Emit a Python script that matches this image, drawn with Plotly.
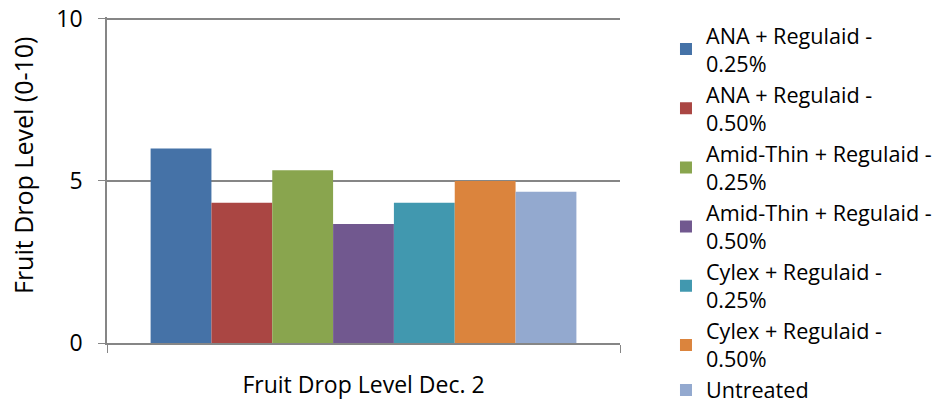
import plotly.graph_objects as go

category = ["Fruit Drop Level Dec. 2"]
series_names = [
    "ANA + Regulaid -<br>0.25%",
    "ANA + Regulaid -<br>0.50%",
    "Amid-Thin + Regulaid -<br>0.25%",
    "Amid-Thin + Regulaid -<br>0.50%",
    "Cylex + Regulaid -<br>0.25%",
    "Cylex + Regulaid -<br>0.50%",
    "Untreated",
]
series_values = [6.0, 4.33, 5.33, 3.67, 4.33, 5.0, 4.67]
colors = ["#4572A7", "#AA4643", "#89A54E", "#71588F", "#4198AF", "#DB843D", "#93A9CF"]
y_ticks = [0, 5, 10]
y_title = "Fruit Drop Level (0-10)"

FONT = "Open Sans"
FS = 23
W, H = 951, 407

fig = go.Figure()
for name, val, col in zip(series_names, series_values, colors):
    fig.add_trace(go.Bar(x=category, y=[val], name=name, marker=dict(color=col, line=dict(width=0))))

fig.add_annotation(text=y_title, textangle=-90, xref="paper", yref="paper",
                   x=-0.1637, y=0.543, xanchor="center", yanchor="middle", showarrow=False,
                   font=dict(family=FONT, size=25, color="#000000"))

fig.update_layout(
    width=W, height=H,
    margin=dict(l=107, r=331, t=17, b=64),
    plot_bgcolor="white", paper_bgcolor="white",
    barmode="group", bargap=0.17, bargroupgap=0,
    font=dict(family=FONT, size=FS, color="#000000"),
    showlegend=True,
    legend=dict(xref="container", yref="container", x=0.7003, y=0.9643, xanchor="left", yanchor="top",
                font=dict(family=FONT, size=21.6, color="#000000"),
                traceorder="normal", maxheight=1,
                bgcolor="rgba(0,0,0,0)"),
    xaxis=dict(showline=True, linecolor="#868686", linewidth=1.5, automargin=False,
               ticks="outside", tickson="boundaries", ticklen=8, tickcolor="#868686",
               tickfont=dict(family=FONT, size=FS, color="#000000"), ticklabelstandoff=21,
               showgrid=False),
    yaxis=dict(range=[0, 10.06], tickvals=y_ticks, showline=True, linecolor="#868686", linewidth=1.5,
               automargin=False, ticklabeloverflow="allow",
               ticks="outside", ticklen=7, tickcolor="#868686", ticklabelstandoff=11,
               showgrid=True, gridcolor="#868686", gridwidth=1.5,
               zeroline=False,
               tickfont=dict(family=FONT, size=FS, color="#000000")),
)

fig.write_html(
    "out.html",
    config={"displayModeBar": False},
    post_script="document.body.style.margin='0';document.body.style.overflow='hidden';",
)
